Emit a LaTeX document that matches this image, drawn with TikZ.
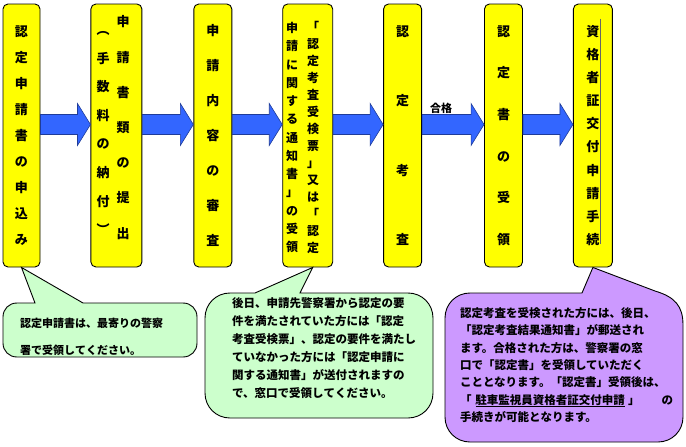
\documentclass[tikz,border=0pt]{standalone}
\usepackage{fontspec}
\setmainfont{Noto Sans CJK JP}
\usetikzlibrary{positioning,calc}
\XeTeXlinebreaklocale "ja"
\XeTeXlinebreakskip=0pt plus 2pt
\definecolor{BoxYellow}{HTML}{FFFF00}
\definecolor{ArrowBlue}{HTML}{3366FF}
\definecolor{ArrowEdge}{HTML}{1F3C99}
\definecolor{NoteGreen}{HTML}{CCFFCC}
\definecolor{NotePurple}{HTML}{CC99FF}
% one justified line of a note
\newcommand{\fillline}[2]{\makebox[#1][s]{#2}}
% block arrow between two boxes
\newcommand{\flowarrow}[2]{%
  \path[arrowbody] let \p1=(#1.east |- axis), \p2=(#2.west |- axis) in
    (\x1,\y1+10pt) -- (\x2-13pt,\y1+10pt) -- (\x2-13pt,\y1+21pt) -- (\x2,\y1)
    -- (\x2-13pt,\y1-21pt) -- (\x2-13pt,\y1-10pt) -- (\x1,\y1-10pt) -- cycle;}

\begin{document}
\begin{tikzpicture}[x=1pt,y=-1pt,
  flowbox/.style={draw=black,line width=0.9pt,fill=BoxYellow,rounded corners=5pt,
    minimum height=263pt,inner sep=0pt,align=center},
  colstack/.style={align=center,inner sep=0pt},
  arrowbody/.style={fill=ArrowBlue,draw=ArrowEdge,line width=0.6pt},
  notegreen/.style={draw=black,line width=0.9pt,fill=NoteGreen},
  notepurple/.style={draw=black,line width=0.9pt,fill=NotePurple},
  notetext/.style={align=left,inner sep=0pt},
  framerule/.style={draw=black!60,line width=0.3pt}]
\useasboundingbox (0,0) rectangle (686,447);
\coordinate (axis) at (0,124.5);

% steps
\node[flowbox,minimum width=37pt,font=\fontsize{13}{26}\selectfont\bfseries]
  (apply) at (21.5,135.5) {認\\定\\申\\請\\書\\の\\申\\込\\み};
\node[flowbox,minimum width=51pt,right=50pt of apply] (submit) {};
\node[colstack,font=\fontsize{13}{35.2}\selectfont\bfseries]
  (submitR) at (123,127.5) {申\\請\\書\\類\\の\\提\\出};
\node[colstack,font=\fontsize{13}{28.6}\selectfont\bfseries]
  (submitL) at (103,133) {︵\\手\\数\\料\\の\\納\\付\\︶};
\node[flowbox,minimum width=38pt,right=51pt of submit,font=\fontsize{13}{35}\selectfont\bfseries]
  (review) {申\\請\\内\\容\\の\\審\\査};
\node[flowbox,minimum width=50pt,right=50pt of review] (notice) {};
\node[colstack,font=\fontsize{12}{17}\selectfont\bfseries]
  (noticeR) at (313,137.5) {「\\認\\定\\考\\査\\受\\検\\票\\」\\又\\は\\「\\認\\定};
\node[colstack,font=\fontsize{12}{18.25}\selectfont\bfseries]
  (noticeL) at (292,137.5) {申\\請\\に\\関\\す\\る\\通\\知\\書\\」\\の\\受\\領};
\node[flowbox,minimum width=38pt,right=50pt of notice,font=\fontsize{13}{69.5}\selectfont\bfseries]
  (exam) {認\\定\\考\\査};
\node[flowbox,minimum width=38pt,right=62pt of exam,font=\fontsize{13}{41.6}\selectfont\bfseries]
  (receive) {認\\定\\書\\の\\受\\領};
\node[flowbox,minimum width=39pt,right=50pt of receive,font=\fontsize{13}{23.1}\selectfont\bfseries]
  (issue) {資\\格\\者\\証\\交\\付\\申\\請\\手\\続};
\draw[framerule] ($(issue.north)+(7.5,15)$) -- ($(issue.south)+(7.5,-23)$);

% arrows
\flowarrow{apply}{submit}
\flowarrow{submit}{review}
\flowarrow{review}{notice}
\flowarrow{notice}{exam}
\flowarrow{exam}{receive}
\flowarrow{receive}{issue}
\node[font=\fontsize{11}{13}\selectfont\bfseries] (pass) at (441,108) {合格};

% notes
\draw[notegreen] (3,317) .. controls (3,309) and (9,303) .. (17,303) -- (35,303)
  -- (apply.south) -- (83,303) -- (183,303) .. controls (191,303) and (197,309) .. (197,317)
  -- (197,343) .. controls (197,351) and (191,357) .. (183,357) -- (17,357)
  .. controls (9,357) and (3,351) .. (3,343) -- cycle;
\node[notetext,text width=160pt,font=\fontsize{11}{27}\selectfont\bfseries] (note1) at (100,336.5)
  {\fillline{160pt}{認定申請書は、最寄りの警察}\\署で受領してください。};

\draw[notegreen] (205,318) .. controls (205,304) and (216,293) .. (230,293) -- (255,293)
  -- ($(notice.south)+(5,0)$) -- (300,293) -- (408,293) .. controls (422,293) and (433,304) .. (433,318)
  -- (433,393) .. controls (433,407) and (422,418) .. (408,418) -- (230,418)
  .. controls (216,418) and (205,407) .. (205,393) -- cycle;
\node[notetext,text width=195pt,font=\fontsize{11.5}{18}\selectfont\bfseries] (note2) at (329.5,348)
  {\fillline{195pt}{後日、申請先警察署から認定の要}\\
   \fillline{195pt}{件を満たされていた方には「認定}\\
   \fillline{195pt}{考査受検票」、認定の要件を満たし}\\
   \fillline{195pt}{ていなかった方には「認定申請に}\\
   \fillline{195pt}{関する通知書」が送付されますの}\\
   で、窓口で受領してください。};

\draw[notepurple] (445,318) .. controls (445,304) and (456,293) .. (470,293) -- (582,293)
  -- (issue.south) -- (655,291) .. controls (675,297) and (683,306) .. (683,325)
  -- (683,417) .. controls (683,431) and (672,442) .. (658,442) -- (470,442)
  .. controls (456,442) and (445,431) .. (445,417) -- cycle;
\node[notetext,text width=213pt,font=\fontsize{11.5}{17.3}\selectfont\bfseries] (note3) at (566.5,365)
  {\fillline{213pt}{認定考査を受検された方には、後日、}\\
   \fillline{213pt}{「認定考査結果通知書」が郵送され}\\
   \fillline{213pt}{ます。合格された方は、警察署の窓}\\
   \fillline{213pt}{口で「認定書」を受領していただく}\\
   \fillline{213pt}{こととなります。「認定書」受領後は、}\\
   \fillline{213pt}{「\hspace{4pt}\underline{駐車監視員資格者証交付申請}\hspace{3pt}」\hspace{0pt plus 1fil}\hspace{10pt}の}\\
   手続きが可能となります。};
\end{tikzpicture}
\end{document}
